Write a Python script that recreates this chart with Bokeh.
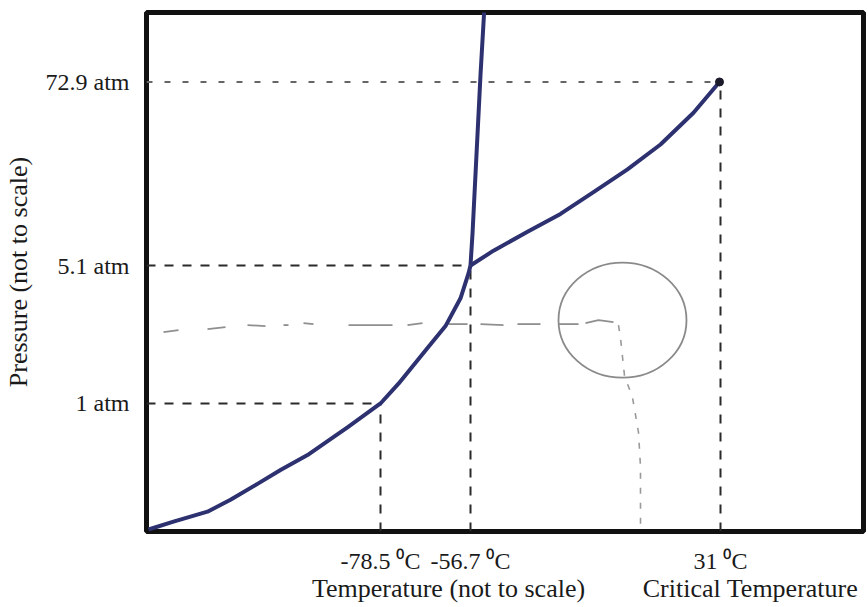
from bokeh.plotting import figure
from bokeh.models import Range1d, FixedTicker, LinearAxis
from bokeh.embed import file_html
from bokeh.resources import INLINE

# ---- data (diagram is "not to scale": arbitrary position units) ----
temp_ticks = [234, 324, 574]
temp_labels = ["-78.5 \u2070C", "-56.7 \u2070C", "31 \u2070C"]
pres_ticks = [129, 268, 453]
pres_labels = ["1 atm", "5.1 atm", "72.9 atm"]
title_ticks = [302, 604]
title_labels = ["Temperature (not to scale)", "Critical Temperature"]

# sublimation curve (solid-gas)
sub_x = [2, 27, 61, 84, 111, 134, 161, 184, 201, 234, 252, 281, 299, 314, 322, 324]
sub_y = [2, 10, 20, 32, 48, 62, 77, 93, 105, 129, 149, 185, 207, 235, 260, 268]
# melting curve (solid-liquid)
melt_x = [324, 326, 331, 334, 338]
melt_y = [268, 300, 400, 460, 530]
# vaporization curve (liquid-gas) up to the critical point
vap_x = [324, 347, 381, 414, 447, 481, 514, 547, 573]
vap_y = [268, 283, 302, 320, 342, 365, 390, 422, 453]
critical_x = [573]
critical_y = [453]

# pencil annotations (hand-drawn)
pencil_dash_x = [[17, 32], [61, 79], [101, 119], [137, 142], [157, 167], [202, 246],
                 [261, 276], [302, 321], [334, 357], [371, 394], [412, 432], [439, 452, 467]]
pencil_dash_y = [[201, 203], [204, 206], [208, 207], [208, 208], [210, 209], [208, 208],
                 [208, 210], [209, 209], [209, 208], [209, 209], [209, 209], [210, 213, 211]]
pencil_drop_x = [472, 474, 478, 486, 492, 494, 494]
pencil_drop_y = [208, 195, 157, 135, 100, 65, 5]
circle_x, circle_y, circle_w, circle_h = [476], [213], [128], [116]

X_MAX, Y_MAX = 717, 523

p = figure(width=867, height=605, output_backend="svg", toolbar_location=None,
           x_range=Range1d(0, X_MAX), y_range=Range1d(0, Y_MAX),
           min_border_left=146, min_border_right=4, min_border_top=12, min_border_bottom=70)
p.grid.visible = False
p.background_fill_color = "white"
p.border_fill_color = "white"
p.outline_line_color = "#111111"
p.outline_line_width = 5

SERIF = "Liberation Serif"
TXT = "#1a1a1a"

# second bottom axis carrying the titles
title_axis = LinearAxis(ticker=FixedTicker(ticks=title_ticks),
                        major_label_overrides={t: l for t, l in zip(title_ticks, title_labels)})
p.add_layout(title_axis, "below")

for ax in (p.xaxis[0], p.yaxis[0], title_axis):
    ax.axis_line_color = None
    ax.major_tick_line_color = None
    ax.minor_tick_line_color = None
    ax.major_tick_out = 0
    ax.major_tick_in = 0
    ax.major_label_text_font = SERIF
    ax.major_label_text_font_size = "24px"
    ax.major_label_text_color = TXT

title_axis.major_label_text_font_size = "26px"
title_axis.major_label_standoff = -3

p.xaxis[0].ticker = FixedTicker(ticks=temp_ticks)
p.xaxis[0].major_label_overrides = {t: l for t, l in zip(temp_ticks, temp_labels)}
p.xaxis[0].major_label_standoff = 16

p.yaxis.ticker = FixedTicker(ticks=pres_ticks)
p.yaxis.major_label_overrides = {t: l for t, l in zip(pres_ticks, pres_labels)}
p.yaxis.major_label_standoff = 17
p.yaxis.axis_label = "Pressure (not to scale)"
p.yaxis.axis_label_text_font = SERIF
p.yaxis.axis_label_text_font_style = "normal"
p.yaxis.axis_label_text_font_size = "26px"
p.yaxis.axis_label_text_color = TXT
p.yaxis.axis_label_standoff = 10

# dashed guide lines from each labelled point to the axes
hx = [[0, t] for t in temp_ticks]
hy = [[v, v] for v in pres_ticks]
vx = [[t, t] for t in temp_ticks]
vy = [[0, v] for v in pres_ticks]
p.multi_line(hx[:2], hy[:2], line_color="#2a2a2a", line_width=2, line_dash="9 9")
p.multi_line(hx[2:], hy[2:], line_color="#666666", line_width=2, line_dash="6 12")
p.multi_line(vx, vy, line_color="#2a2a2a", line_width=2, line_dash="9 9")

# pencil marks
p.multi_line(pencil_dash_x, pencil_dash_y, line_color="#8f8f8f", line_width=1.8)
p.line(pencil_drop_x, pencil_drop_y, line_color="#9a9a9a", line_width=1.6, line_dash="6 9")
p.ellipse(circle_x, circle_y, width=circle_w, height=circle_h, fill_color=None,
          line_color="#8a8a8a", line_width=1.8)

# phase boundaries
CURVE = "#2d3170"
p.line(sub_x, sub_y, line_color=CURVE, line_width=4, line_join="round")
p.line(melt_x, melt_y, line_color=CURVE, line_width=4, line_join="round")
p.line(vap_x, vap_y, line_color=CURVE, line_width=4, line_join="round")
p.scatter(critical_x, critical_y, size=8, color="#1a1a2a")

open("out.html", "w").write(file_html(p, INLINE))
